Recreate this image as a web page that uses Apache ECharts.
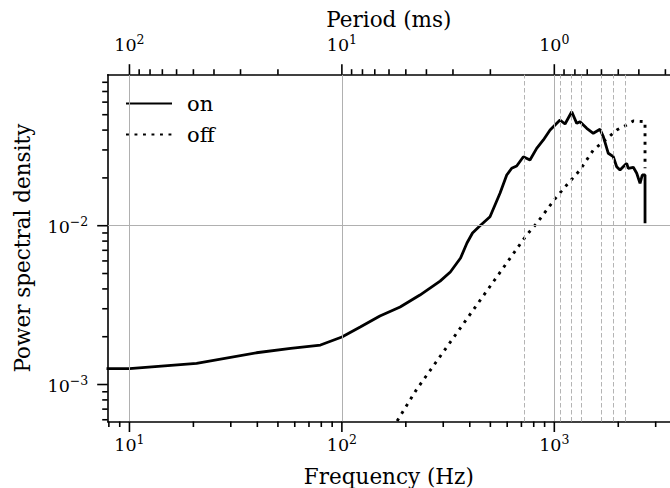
<!DOCTYPE html>
<html>
<head>
<meta charset="utf-8">
<script src="https://cdn.jsdelivr.net/npm/echarts@6/dist/echarts.min.js"></script>
<style>
html,body{margin:0;padding:0;background:#fff;}
#chart{width:670px;height:488px;}
</style>
</head>
<body>
<div id="chart"></div>
<script>
// ---- data ----
const onFreq = [7.8, 10, 20.7, 39.6, 57.4, 79.3, 100, 122, 151, 188, 233, 290, 324, 362, 388, 412, 447, 498, 555, 597, 630, 665, 715, 768, 826, 888, 955, 1064, 1123, 1208, 1275, 1321, 1421, 1526, 1641, 1701, 1795, 1895, 1966, 2038, 2191, 2229, 2354, 2443, 2532, 2595, 2673, 2673];
const onPsd = [0.001258, 0.001258, 0.00136, 0.001585, 0.00169, 0.001773, 0.00199, 0.0023, 0.0027, 0.003076, 0.00366, 0.00448, 0.00511, 0.00626, 0.00778, 0.009, 0.01, 0.01139, 0.016, 0.02086, 0.023, 0.02377, 0.0272, 0.0259, 0.0307, 0.03465, 0.04005, 0.0463, 0.0437, 0.0522, 0.0441, 0.0452, 0.04106, 0.0382, 0.04046, 0.03636, 0.02858, 0.0272, 0.02352, 0.02242, 0.0247, 0.023, 0.02332, 0.02138, 0.01849, 0.02086, 0.02086, 0.01035];
const offFreq = [182, 225, 741, 826, 1026, 1144, 1321, 1526, 1701, 1966, 2191, 2354, 2673, 2673];
const offPsd = [0.000589, 0.000933, 0.00874, 0.01035, 0.01523, 0.01804, 0.02242, 0.02997, 0.0338, 0.04005, 0.04306, 0.04563, 0.0452, 0.023];
const markerFreq = [720, 1067, 1198, 1346, 1659, 1889, 2168];

// axis extents and ticks
const FMIN = 7.9, FMAX = 3504;
const PMIN = 5.85e-4, PMAX = 0.0893;
const freqMajor = [10, 100, 1000];
const freqExp = [1, 2, 3];
const freqMinor = [8, 9, 20, 30, 40, 50, 60, 70, 80, 90, 200, 300, 400, 500, 600, 700, 800, 900, 2000, 3000];
const periodMajor = [100, 10, 1];
const periodExp = [2, 1, 0];
const periodMinor = [90, 80, 70, 60, 50, 40, 30, 20, 9, 8, 7, 6, 5, 4, 3, 2, 0.9, 0.8, 0.7, 0.6, 0.5, 0.4, 0.3];
const psdMajor = [0.001, 0.01];
const psdExp = [-3, -2];
const psdMinor = [6e-4, 7e-4, 8e-4, 9e-4, 2e-3, 3e-3, 4e-3, 5e-3, 6e-3, 7e-3, 8e-3, 9e-3, 0.02, 0.03, 0.04, 0.05, 0.06, 0.07, 0.08];

const FONT = "'DejaVu Serif', serif";

// build helper tables
const tickData = [];
freqMajor.forEach(f => tickData.push([f, PMIN, 0, 1]));
freqMinor.forEach(f => tickData.push([f, PMIN, 0, 0]));
periodMajor.forEach(p => tickData.push([1000 / p, PMAX, 1, 1]));
periodMinor.forEach(p => tickData.push([1000 / p, PMAX, 1, 0]));
psdMajor.forEach(v => tickData.push([FMIN, v, 2, 1]));
psdMinor.forEach(v => tickData.push([FMIN, v, 2, 0]));

const labelData = [];
freqMajor.forEach((f, i) => labelData.push([f, PMIN, 0, freqExp[i]]));
periodMajor.forEach((p, i) => labelData.push([1000 / p, PMAX, 1, periodExp[i]]));
psdMajor.forEach((v, i) => labelData.push([FMIN, v, 2, psdExp[i]]));

const zip = (a, b) => a.map((v, i) => [v, b[i]]);

const GRID_COLOR = '#b0b0b0';
const gridMarks = [];
freqMajor.forEach(f => gridMarks.push({ xAxis: f, lineStyle: { color: GRID_COLOR, width: 1, type: 'solid' } }));
psdMajor.forEach(v => gridMarks.push({ yAxis: v, lineStyle: { color: GRID_COLOR, width: 1, type: 'solid' } }));
markerFreq.forEach(f => gridMarks.push({ xAxis: f, lineStyle: { color: '#b4b4b4', width: 1, type: [4.5, 2.5] } }));

const rich = {
  b: { fontFamily: FONT, fontSize: 17.5, lineHeight: 18, color: '#000' },
  s: { fontFamily: FONT, fontSize: 12.5, lineHeight: 12, color: '#000', verticalAlign: 'bottom', padding: [0, 0, 8, 0] }
};

const chart = echarts.init(document.getElementById('chart'), null, { renderer: 'svg' });
chart.setOption({
  animation: false,
  backgroundColor: '#fff',
  grid: { left: 107.7, top: 74.7, width: 562.3, height: 346.8, containLabel: false, outerBoundsMode: 'none' },
  legend: {
    data: ['on', 'off'],
    orient: 'vertical',
    left: 120, top: 88,
    itemWidth: 46, itemHeight: 14, itemGap: 10,
    itemStyle: { color: 'rgba(0,0,0,0)', borderColor: 'rgba(0,0,0,0)', borderWidth: 0, opacity: 0 },
    textStyle: { fontFamily: FONT, fontSize: 21, color: '#000', padding: [0, 0, 0, 10] }
  },
  xAxis: [
    {
      type: 'log', min: FMIN, max: FMAX, position: 'bottom', nameMoveOverlap: false,
      axisLine: { show: true, onZero: false, lineStyle: { color: '#000', width: 1.6 } },
      axisTick: { show: false }, axisLabel: { show: false }, splitLine: { show: false }, minorTick: { show: false },
      name: 'Frequency (Hz)', nameLocation: 'middle', nameGap: 44,
      nameTextStyle: { fontFamily: FONT, fontSize: 21.5, lineHeight: 22, color: '#000' }
    },
    {
      type: 'log', min: FMIN, max: FMAX, position: 'top', nameMoveOverlap: false,
      axisLine: { show: true, onZero: false, lineStyle: { color: '#000', width: 1.6 } },
      axisTick: { show: false }, axisLabel: { show: false }, splitLine: { show: false },
      name: 'Period (ms)', nameLocation: 'middle', nameGap: 44,
      nameTextStyle: { fontFamily: FONT, fontSize: 21.5, lineHeight: 22, color: '#000' }
    }
  ],
  yAxis: {
    type: 'log', min: PMIN, max: PMAX, nameMoveOverlap: false,
    axisLine: { show: true, onZero: false, lineStyle: { color: '#000', width: 1.6 } },
    axisTick: { show: false }, axisLabel: { show: false }, splitLine: { show: false },
    name: 'Power spectral density', nameLocation: 'middle', nameGap: 74, nameRotate: 90,
    nameTextStyle: { fontFamily: FONT, fontSize: 21.5, color: '#000' }
  },
  series: [
    {
      name: 'grid', type: 'line', data: [], z: 1, silent: true,
      markLine: { silent: true, symbol: ['none', 'none'], label: { show: false }, animation: false, data: gridMarks }
    },
    {
      name: 'on', type: 'line', data: zip(onFreq, onPsd), z: 3,
      showSymbol: false, symbol: 'none', smooth: false,
      lineStyle: { color: '#000', width: 2.8 }, itemStyle: { color: '#000' }
    },
    {
      name: 'off', type: 'line', data: zip(offFreq, offPsd), z: 3,
      showSymbol: false, symbol: 'none',
      lineStyle: { color: '#000', width: 2.9, type: [2.9, 5.6], cap: 'butt' }, itemStyle: { color: '#000' }
    },
    {
      name: 'ticks', type: 'custom', data: tickData, z: 5, silent: true, clip: false,
      encode: { x: 0, y: 1 },
      renderItem: function (params, api) {
        const p = api.coord([api.value(0), api.value(1)]);
        const ax = api.value(2), maj = api.value(3);
        const len = maj ? 10.5 : 5.5;
        let s;
        if (ax === 0) s = { x1: p[0], y1: p[1], x2: p[0], y2: p[1] + len };
        else if (ax === 1) s = { x1: p[0], y1: p[1], x2: p[0], y2: p[1] - len };
        else s = { x1: p[0] - len, y1: p[1], x2: p[0], y2: p[1] };
        return { type: 'line', shape: s, style: { stroke: '#000', lineWidth: 1.6 } };
      }
    },
    {
      name: 'ticklabels', type: 'custom', data: labelData, z: 5, silent: true, clip: false,
      encode: { x: 0, y: 1 },
      renderItem: function (params, api) {
        const p = api.coord([api.value(0), api.value(1)]);
        const ax = api.value(2), e = api.value(3);
        const txt = '{b|10}{s|' + (e < 0 ? '\u2212' + (-e) : e) + '}';
        let x = p[0], y = p[1], align = 'center', va = 'top';
        if (ax === 0) { y = p[1] + 14; }
        else if (ax === 1) { y = p[1] - 21; va = 'bottom'; }
        else { x = p[0] - 19.5; y = p[1] + 1; align = 'right'; va = 'middle'; }
        return { type: 'text', x: x, y: y, style: { text: txt, rich: rich, align: align, verticalAlign: va, fill: '#000' } };
      }
    }
  ]
});
</script>
</body>
</html>
